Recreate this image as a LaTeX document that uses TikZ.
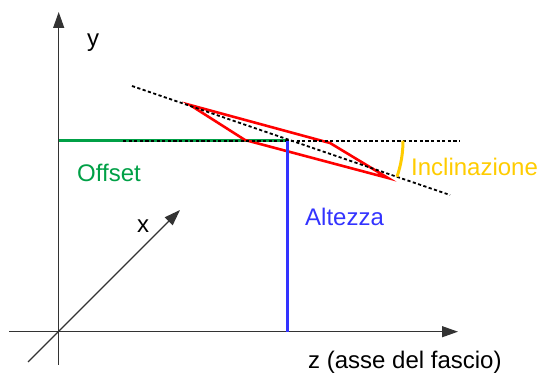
\documentclass[tikz,border=0pt]{standalone}
\usepackage{fontspec}
\setmainfont{Liberation Sans}
\usetikzlibrary{arrows.meta,calc}
\definecolor{offgreen}{RGB}{0,160,70}
\definecolor{altblue}{RGB}{51,51,255}
\definecolor{incyellow}{RGB}{255,204,0}
\tikzset{
  axis/.style={draw=black!80, line width=1.1pt},
  axisarrow/.style={axis, -{Triangle[length=16pt,width=11pt]}},
  guide/.style={draw=black, line width=1.8pt, dash pattern=on 3.2pt off 2.4pt},
  lbl/.style={font=\fontsize{24}{28}\selectfont, inner sep=0pt},
}
\begin{document}
\begin{tikzpicture}[x=1pt,y=-1pt]
\useasboundingbox (0,0) rectangle (539,374);
% axis coordinates
\coordinate (ybot) at (58.7,365);
\coordinate (ytop) at (58.7,12);
\coordinate (zleft) at (9,331.7);
\coordinate (ztip) at (458,331.7);
\coordinate (xbot) at (28,362);
\coordinate (xtip) at (180,210);
% geometry
\coordinate (gstart) at (58.7,140.7);
\coordinate (hcross) at (287.3,140.7);
\coordinate (hstart) at (123,140.7);
\coordinate (hend) at (460,140.7);
\coordinate (istart) at (132,86);
\coordinate (iend) at (450,195);
\coordinate (pA) at (190,105);
\coordinate (pB) at (330,143);
\coordinate (pC) at (388,178);
\coordinate (pD) at (245,140);
\coordinate (bbot) at (287.3,331.7);
\coordinate (arcO) at (291.5,140.7);
\coordinate (arcS) at (403,140.7);
% axes
\draw[axisarrow] (ybot) -- (ytop);
\draw[axisarrow] (zleft) -- (ztip);
\draw[axisarrow] (xbot) -- (xtip);
% offset
\draw[offgreen, line width=3.2pt] (gstart) -- (hcross);
% parallelogram
\draw[red, line width=2.6pt, line join=miter] (pA) -- (pB) -- (pC) -- (pD) -- cycle;
% guides
\draw[guide] (hstart) -- (hend);
\draw[guide] (istart) -- (iend);
% altezza
\draw[altblue, line width=3.2pt] (hcross) -- (bbot);
% inclinazione arc
\draw[incyellow, line width=3pt] (arcS) arc[start angle=0, end angle=18.9, radius=111.5];
% labels
\node[lbl] (ly) at (93,43) {y};
\node[lbl] (lx) at (143,226) {x};
\node[lbl, anchor=west] (lz) at (308,362) {z (asse del fascio)};
\node[lbl, anchor=west, text=offgreen] (loff) at (77,173) {Offset};
\node[lbl, anchor=west, text=altblue] (lalt) at (305,217) {Altezza};
\node[lbl, anchor=west, text=incyellow] (linc) at (411,167) {Inclinazione};
\end{tikzpicture}
\end{document}
